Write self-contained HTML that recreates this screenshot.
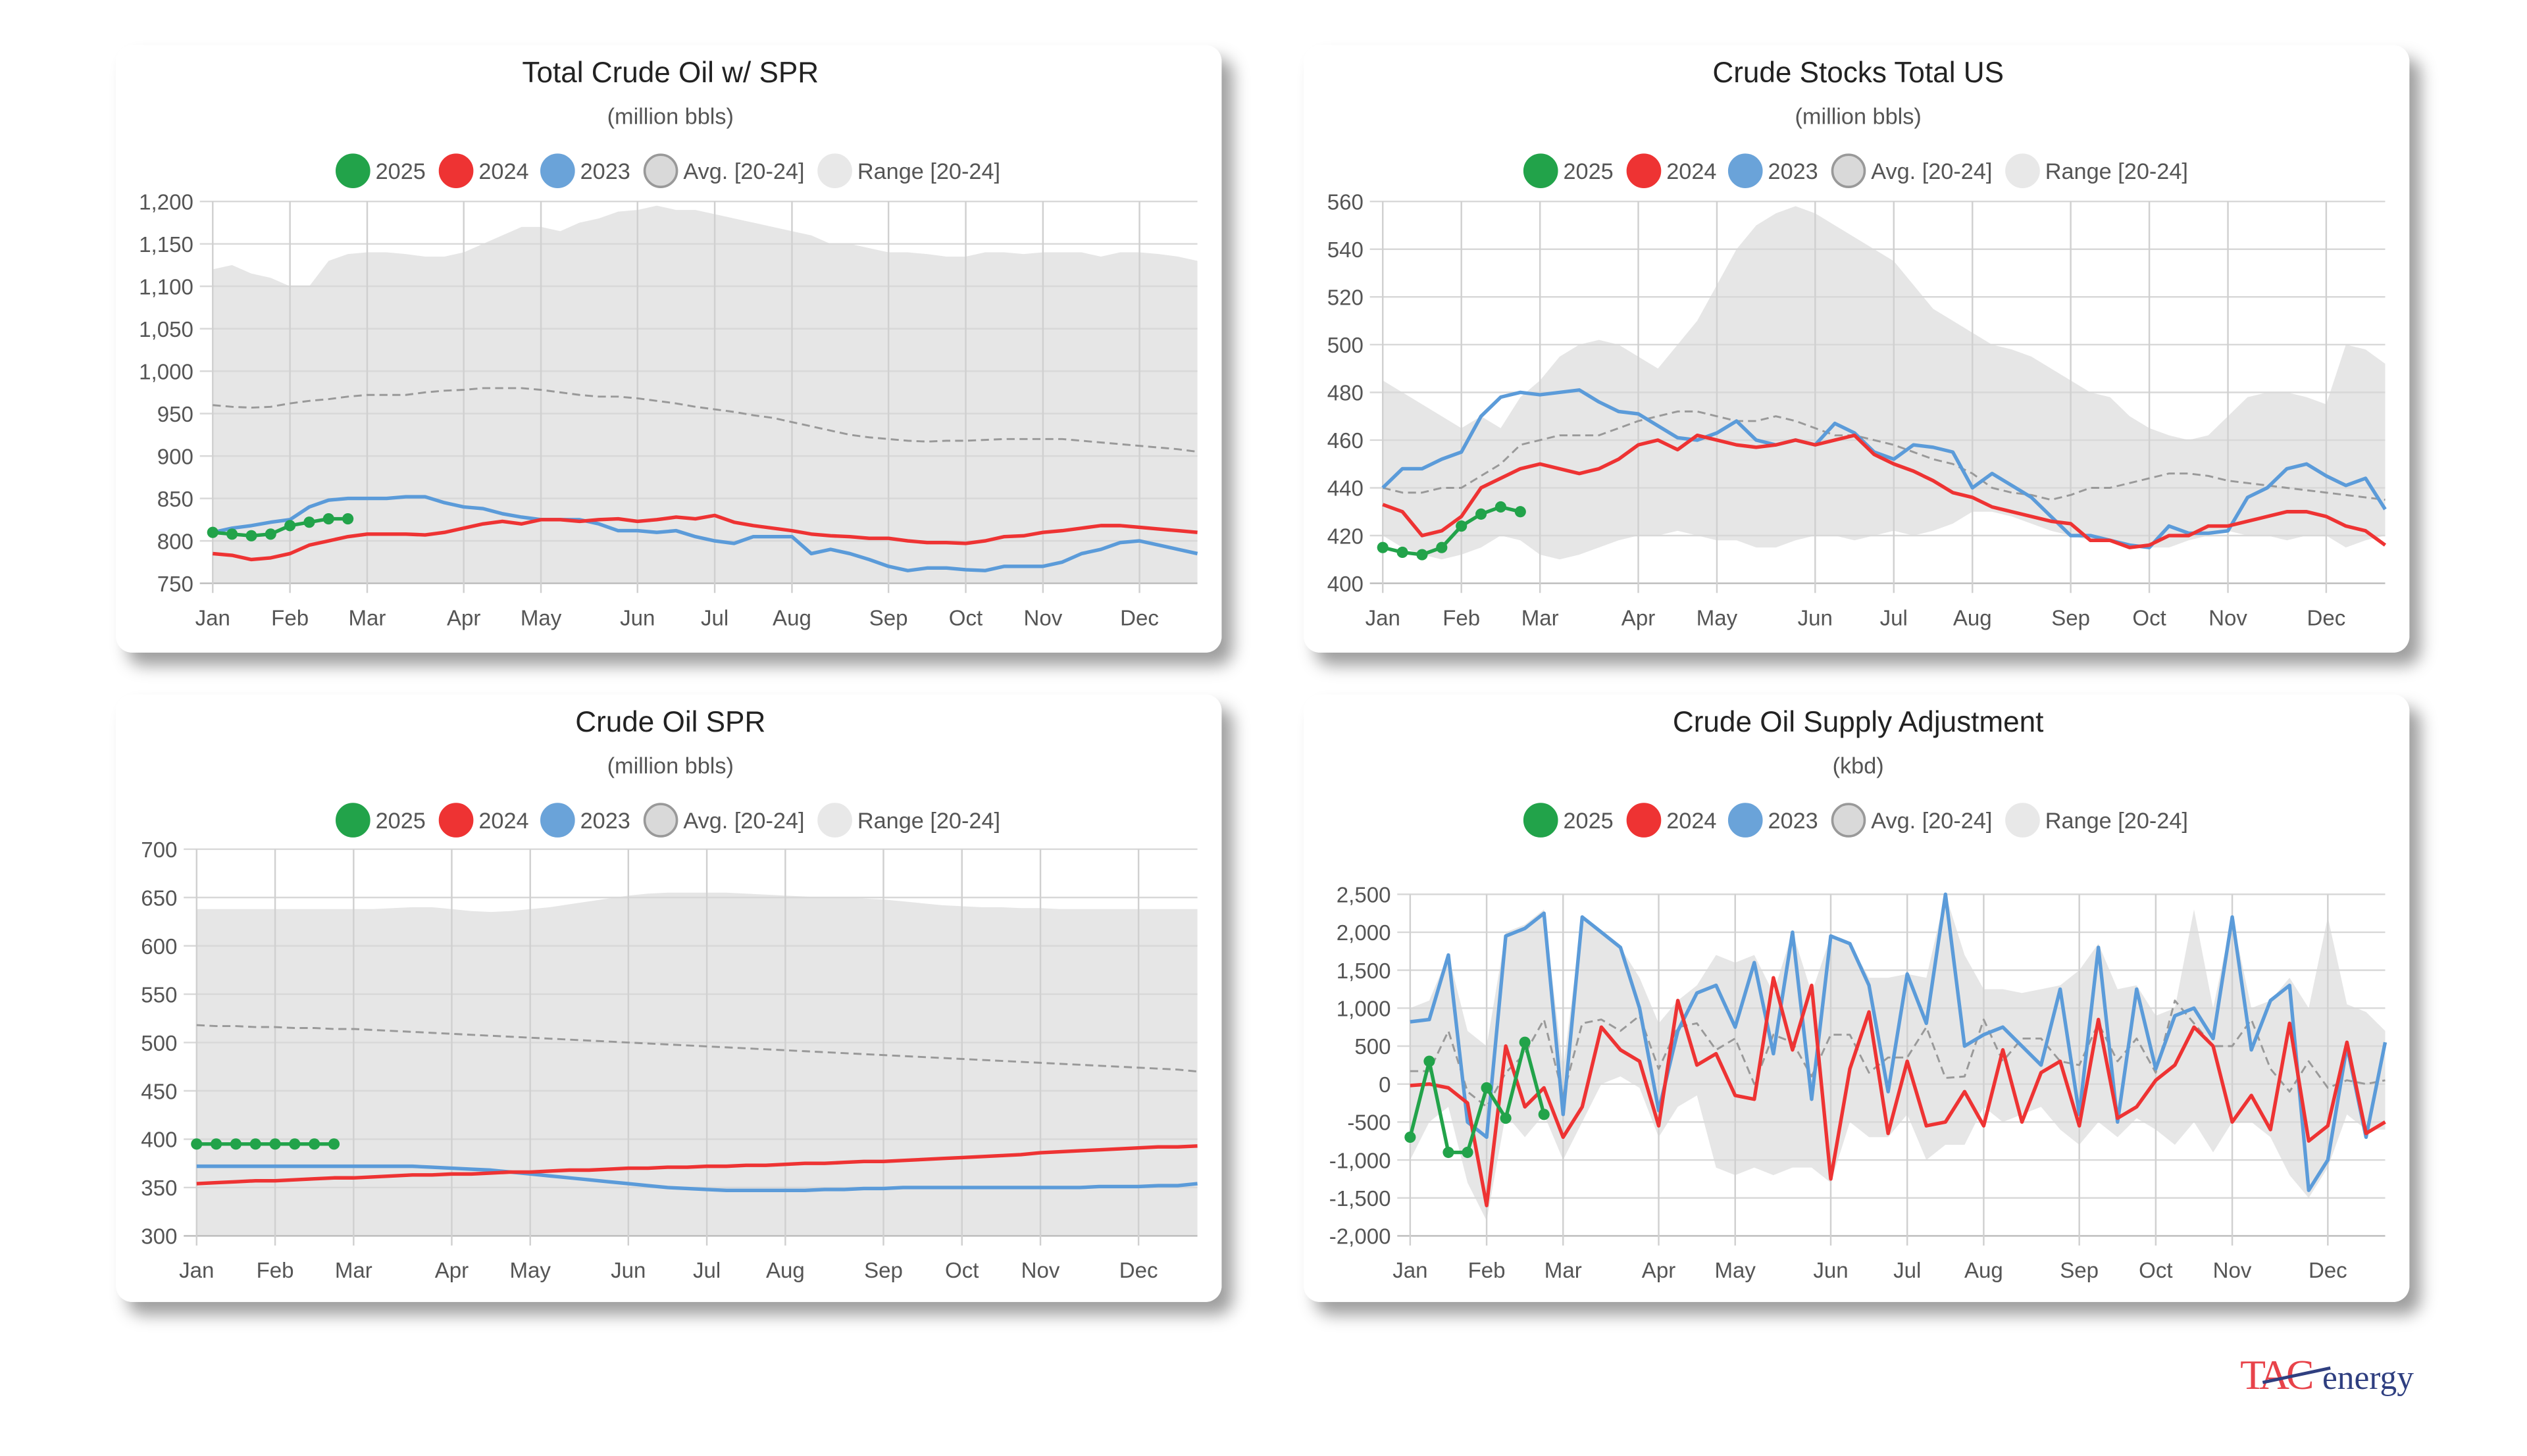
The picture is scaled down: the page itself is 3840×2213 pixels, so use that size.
<!DOCTYPE html>
<html><head><meta charset="utf-8"><style>
html,body{margin:0;padding:0;background:#fff;}
svg{display:block;font-family:"Liberation Sans",sans-serif;}
</style></head><body>
<svg id="root" width="3840" height="2213" viewBox="0 0 1568 903.6" xmlns="http://www.w3.org/2000/svg">
<defs><filter id="sh" x="-5%" y="-5%" width="115%" height="120%"><feDropShadow dx="7" dy="8" stdDeviation="5" flood-color="#000" flood-opacity="0.38"/></filter></defs>
<g id="charts"></g>
<g>
<text x="1390" y="862" font-family="Liberation Serif,serif" font-size="26" fill="#e8434a" letter-spacing="-2">TAC</text>
<text x="1441" y="862" font-family="Liberation Serif,serif" font-size="21" fill="#2f3f80">energy</text>
<line x1="1404" y1="858" x2="1446" y2="849" stroke="#2f3f80" stroke-width="2"/>
</g>
</svg>
<script>
const monthLabels=["Jan","Feb","Mar","Apr","May","Jun","Jul","Aug","Sep","Oct","Nov","Dec"];
const monthWeeks=[0,4,8,13,17,22,26,30,35,39,43,48];

const c1Ticks=[750,800,850,900,950,1000,1050,1100,1150,1200];
const c1RangeHi=[1120,1125,1115,1110,1100,1100,1130,1138,1140,1140,1138,1135,1135,1140,1150,1160,1170,1170,1165,1175,1180,1188,1190,1195,1190,1190,1185,1180,1175,1170,1165,1160,1150,1150,1145,1140,1140,1138,1135,1135,1140,1140,1138,1140,1140,1140,1135,1140,1140,1138,1135,1130];
const c1RangeLo=null;
const c1Avg=[960,958,957,958,962,965,967,970,972,972,972,975,977,978,980,980,980,978,975,972,970,970,968,965,962,958,955,952,948,945,940,935,930,925,922,920,918,917,918,918,919,920,920,920,920,918,916,914,912,910,908,905];
const c1S2023=[810,815,818,822,825,840,848,850,850,850,852,852,845,840,838,832,828,825,825,825,820,812,812,810,812,805,800,797,805,805,805,785,790,785,778,770,765,768,768,766,765,770,770,770,775,785,790,798,800,795,790,785];
const c1S2024=[785,783,778,780,785,795,800,805,808,808,808,807,810,815,820,823,820,825,825,823,825,826,823,825,828,826,830,822,818,815,812,808,806,805,803,803,800,798,798,797,800,805,806,810,812,815,818,818,816,814,812,810];
const c1S2025=[810,808,806,808,818,822,826,826];

const c2Ticks=[400,420,440,460,480,500,520,540,560];
const c2RangeHi=[485,480,475,470,465,470,465,478,485,495,500,502,500,495,490,500,510,525,540,550,555,558,555,550,545,540,535,525,515,510,505,500,498,495,490,485,480,478,470,465,462,460,462,470,478,480,480,478,475,500,498,492];
const c2RangeLo=[420,415,412,410,412,415,420,418,412,410,412,415,418,420,420,422,420,418,418,415,415,418,420,420,418,420,422,420,422,425,430,430,428,425,422,420,418,418,416,415,415,418,420,422,420,420,418,420,420,415,418,420];
const c2Avg=[440,438,438,440,440,445,450,458,460,462,462,462,465,468,470,472,472,470,468,468,470,468,465,462,462,460,458,455,452,450,446,440,438,437,435,437,440,440,442,444,446,446,445,443,442,441,440,439,438,437,436,435];
const c2S2023=[440,448,448,452,455,470,478,480,479,480,481,476,472,471,466,461,460,463,468,460,458,460,458,467,463,455,452,458,457,455,440,446,441,436,428,420,420,418,416,415,424,421,421,422,436,440,448,450,445,441,444,431];
const c2S2024=[433,430,420,422,428,440,444,448,450,448,446,448,452,458,460,456,462,460,458,457,458,460,458,460,462,454,450,447,443,438,436,432,430,428,426,425,418,418,415,416,420,420,424,424,426,428,430,430,428,424,422,416];
const c2S2025=[415,413,412,415,424,429,432,430];

const c3Ticks=[300,350,400,450,500,550,600,650,700];
const c3RangeHi=[638,638,638,638,638,638,638,638,638,638,639,640,640,638,636,635,636,638,640,643,646,649,652,654,655,655,655,655,654,653,652,651,650,650,649,648,646,644,642,641,640,640,639,639,638,638,638,638,638,638,638,638];
const c3RangeLo=null;
const c3Avg=[518,517,517,516,516,515,515,514,514,513,512,511,510,509,508,507,506,505,504,503,502,501,500,499,498,497,496,495,494,493,492,491,490,489,488,487,486,485,484,483,482,481,480,479,478,477,476,475,474,473,472,470];
const c3S2023=[372,372,372,372,372,372,372,372,372,372,372,372,371,370,369,368,366,364,362,360,358,356,354,352,350,349,348,347,347,347,347,347,348,348,349,349,350,350,350,350,350,350,350,350,350,350,351,351,351,352,352,354];
const c3S2024=[354,355,356,357,357,358,359,360,360,361,362,363,363,364,364,365,366,366,367,368,368,369,370,370,371,371,372,372,373,373,374,375,375,376,377,377,378,379,380,381,382,383,384,386,387,388,389,390,391,392,392,393];
const c3S2025=[395,395,395,395,395,395,395,395];

const c4Ticks=[-2000,-1500,-1000,-500,0,500,1000,1500,2000,2500];
const c4RangeHi=[1000,1100,1700,700,500,2000,2100,2300,200,2200,2000,1800,1400,800,1100,1300,1700,1600,1700,1200,2000,1200,1950,1850,1400,1400,1450,1400,2500,1700,1250,1250,1200,1250,1300,1500,1850,1250,1300,900,1000,2300,1000,2200,1000,1100,1400,1000,2200,1050,950,700];
const c4RangeLo=[-1000,-500,-300,-1300,-1800,-400,-700,-400,-1000,-500,0,100,-50,-700,-300,-150,-1100,-1200,-1100,-1200,-1100,-1100,-1300,-500,-700,-700,-400,-1000,-800,-800,-300,-500,-400,-300,-600,-800,-500,-700,-450,-600,-800,-500,-900,-500,-500,-700,-1200,-1500,-1100,-400,-600,-600];
const c4Avg=[170,170,700,-100,-300,150,400,850,-150,800,850,700,900,200,750,800,450,600,0,650,550,100,650,650,150,350,350,750,80,100,850,300,600,600,300,250,800,300,600,150,1100,800,500,500,850,200,-100,300,-50,50,0,50];
const c4S2023=[820,850,1700,-500,-700,1950,2050,2250,-400,2200,2000,1800,1000,-350,700,1200,1300,750,1600,400,2000,-200,1950,1850,1300,-100,1450,800,2500,500,650,750,500,250,1250,-400,1800,-500,1250,200,900,1000,600,2200,450,1100,1300,-1400,-1000,500,-700,550];
const c4S2024=[-20,0,-50,-250,-1600,500,-300,-50,-700,-300,750,450,300,-550,1100,250,400,-150,-200,1400,450,1300,-1250,200,950,-650,300,-550,-500,-100,-550,450,-500,150,300,-550,850,-450,-300,50,250,750,500,-500,-150,-600,800,-750,-550,550,-650,-500];
const c4S2025=[-700,300,-900,-900,-50,-450,550,-400];

const NS="http://www.w3.org/2000/svg";
const root=document.getElementById('charts');
function mk(tag,attrs,parent){const e=document.createElementNS(NS,tag);for(const k in attrs)e.setAttribute(k,attrs[k]);(parent||root).appendChild(e);return e;}
function fmt(v){return v.toLocaleString('en-US');}

function chart(o){
  const g=mk('g',{});
  
  
  const card=mk('rect',{x:o.cx,y:o.cy,width:686,height:377,rx:10,fill:'#fff',filter:'url(#sh)'},g);
  
  
  const mid=o.cx+344;
  const t=mk('text',{x:mid,y:o.cy+23,'text-anchor':'middle','font-size':18,fill:'#222'},g);t.textContent=o.title;
  
  
  const st=mk('text',{x:mid,y:o.cy+49,'text-anchor':'middle','font-size':14,fill:'#555'},g);st.textContent=o.sub;
  
  
  const leg=[['2025','#22a34a','#22a34a',0],['2024','#ee3333','#ee3333',64],['2023','#6aa3d9','#6aa3d9',127],['Avg. [20-24]','#d9d9d9','#999',191],['Range [20-24]','#e8e8e8','#e8e8e8',299]];
  leg.forEach(l=>{
    const lg=mk('g',{},g);
    
    
    const lx=o.cx+147+l[3], ly=o.cy+78;
    mk('circle',{cx:lx,cy:ly,r:10,fill:l[1],stroke:l[2],'stroke-width':1.5},lg);
    const tx=mk('text',{x:lx+14,y:ly+5,'font-size':14,fill:'#555'},lg);tx.textContent=l[0];
  });
  const X=i=>o.x0+(o.x1-o.x0)*i/51;
  const Y=v=>o.yB+(o.yT-o.yB)*(v-o.vmin)/(o.vmax-o.vmin);
  let d='M'+X(0)+','+Y(o.hi[0]);
  o.hi.forEach((v,i)=>d+='L'+X(i)+','+Y(v));
  if(o.lo){for(let i=o.lo.length-1;i>=0;i--)d+='L'+X(i)+','+Y(o.lo[i]);}
  else{d+='L'+X(o.hi.length-1)+','+o.yB+'L'+X(0)+','+o.yB;}
  const rg=mk('path',{d:d+'Z',fill:'#e6e6e6'},g);
  
  
  o.ticks.forEach(v=>{
    mk('line',{x1:o.x0-8,x2:o.x1,y1:Y(v),y2:Y(v),stroke:v===o.vmin?'#bbb':'#d8d8d8','stroke-width':1},g);
    const tl=mk('text',{x:o.x0-12,y:Y(v)+5,'text-anchor':'end','font-size':13.5,fill:'#555'},g);tl.textContent=fmt(v);
    
    
  });
  monthWeeks.forEach((w,i)=>{
    mk('line',{x1:X(w),x2:X(w),y1:o.yT,y2:o.yB+6,stroke:'#d0d0d0','stroke-width':1},g);
    const ml=mk('text',{x:X(w),y:o.yB+26,'text-anchor':'middle','font-size':13.5,fill:'#555'},g);ml.textContent=monthLabels[i];
    
    
  });
  const line=(arr,col,w,dash,name)=>{
    const p=mk('polyline',{points:arr.map((v,i)=>X(i)+','+Y(v)).join(' '),fill:'none',stroke:col,'stroke-width':w,'stroke-linejoin':'round'},g);
    if(dash)p.setAttribute('stroke-dasharray',dash);
    
    
  };
  line(o.avg,'#999',1.2,'5,3','avg-line');
  line(o.s23,'#5b9bd9',2.2,null,'series-2023');
  line(o.s24,'#ee3333',2.2,null,'series-2024');
  line(o.s25,'#22a34a',2.2,null,'series-2025');
  o.s25.forEach((v,i)=>{
    const c=mk('circle',{cx:X(i),cy:Y(v),r:3.5,fill:'#22a34a'},g);
    
    
  });
}
chart({name:'total-crude-with-spr-chart',cx:72,cy:28,title:'Total Crude Oil w/ SPR',sub:'(million bbls)',x0:132,x1:743,yT:125,yB:362,vmin:750,vmax:1200,ticks:c1Ticks,hi:c1RangeHi,lo:c1RangeLo,avg:c1Avg,s23:c1S2023,s24:c1S2024,s25:c1S2025});
chart({name:'crude-stocks-total-us-chart',cx:809,cy:28,title:'Crude Stocks Total US',sub:'(million bbls)',x0:858,x1:1480,yT:125,yB:362,vmin:400,vmax:560,ticks:c2Ticks,hi:c2RangeHi,lo:c2RangeLo,avg:c2Avg,s23:c2S2023,s24:c2S2024,s25:c2S2025});
chart({name:'crude-oil-spr-chart',cx:72,cy:431,title:'Crude Oil SPR',sub:'(million bbls)',x0:122,x1:743,yT:527,yB:767,vmin:300,vmax:700,ticks:c3Ticks,hi:c3RangeHi,lo:c3RangeLo,avg:c3Avg,s23:c3S2023,s24:c3S2024,s25:c3S2025});
chart({name:'crude-supply-adjustment-chart',cx:809,cy:431,title:'Crude Oil Supply Adjustment',sub:'(kbd)',x0:875,x1:1480,yT:555,yB:767,vmin:-2000,vmax:2500,ticks:c4Ticks,hi:c4RangeHi,lo:c4RangeLo,avg:c4Avg,s23:c4S2023,s24:c4S2024,s25:c4S2025});
</script>
</body></html>
